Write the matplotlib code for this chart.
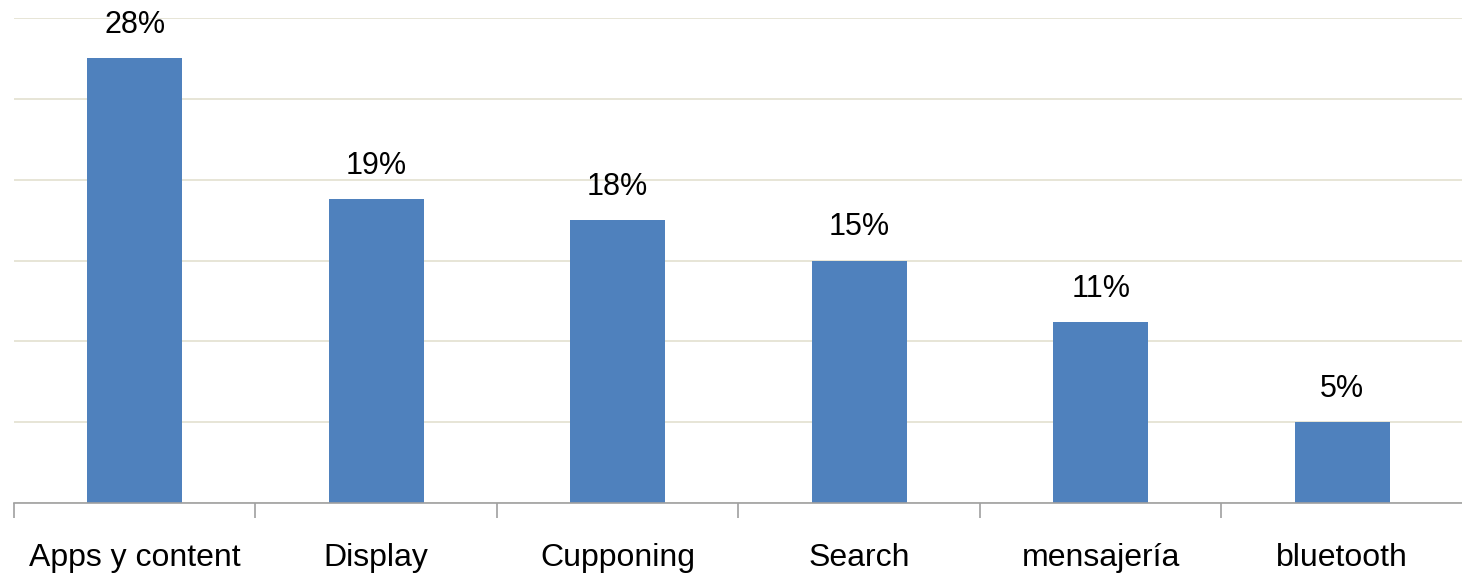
import matplotlib
matplotlib.use('Agg')
import matplotlib.pyplot as plt
from matplotlib import font_manager
import numpy as np

# ── Data ──────────────────────────────────────────────────────────────────────
categories = ['Apps y content', 'Display', 'Cupponing', 'Search', 'mensajería', 'bluetooth']
values = [27.5, 18.8, 17.5, 15.0, 11.2, 5.0]
value_labels = ['28%', '19%', '18%', '15%', '11%', '5%']

BAR_COLOR = '#4F81BD'
GRID_COLOR = '#E3E0CF'
AXIS_COLOR = '#A0A0A0'

names = {f.name for f in font_manager.fontManager.ttflist}
family = 'Liberation Sans Narrow' if 'Liberation Sans Narrow' in names else 'Liberation Sans'
plt.rcParams['font.family'] = [family, 'DejaVu Sans']

fig = plt.figure(figsize=(14.62, 5.79), dpi=100)
ax = fig.add_axes([14 / 1462, 76 / 579, 1449 / 1462, 485 / 579])

x = np.arange(len(categories))
ax.bar(x, values, width=0.395, color=BAR_COLOR, zorder=3)

for xi, v, lab in zip(x, values, value_labels):
    ax.annotate(lab, (xi, v), xytext=(0, 13), textcoords='offset points',
                ha='center', va='bottom', fontsize=22, color='#000000')

ax.set_xlim(-0.5, len(categories) - 0.5)
ax.set_ylim(0, 30)
ax.set_yticks(np.arange(0, 31, 5))
ax.yaxis.grid(True, color=GRID_COLOR, linewidth=1.2, zorder=0)
ax.tick_params(axis='y', left=False, labelleft=False)

ax.set_xticks(x)
ax.set_xticklabels(categories, fontsize=23)
ax.set_xticks(np.arange(-0.5, len(categories) + 0.5, 1), minor=True)
ax.tick_params(axis='x', which='major', length=0, pad=29)
ax.tick_params(axis='x', which='minor', length=11, color=AXIS_COLOR, width=1.2)

for side in ['top', 'right', 'left']:
    ax.spines[side].set_visible(False)
ax.spines['bottom'].set_color(AXIS_COLOR)
ax.spines['bottom'].set_linewidth(1.2)
ax.spines['bottom'].set_zorder(4)

fig.savefig('out.png', dpi=100)
